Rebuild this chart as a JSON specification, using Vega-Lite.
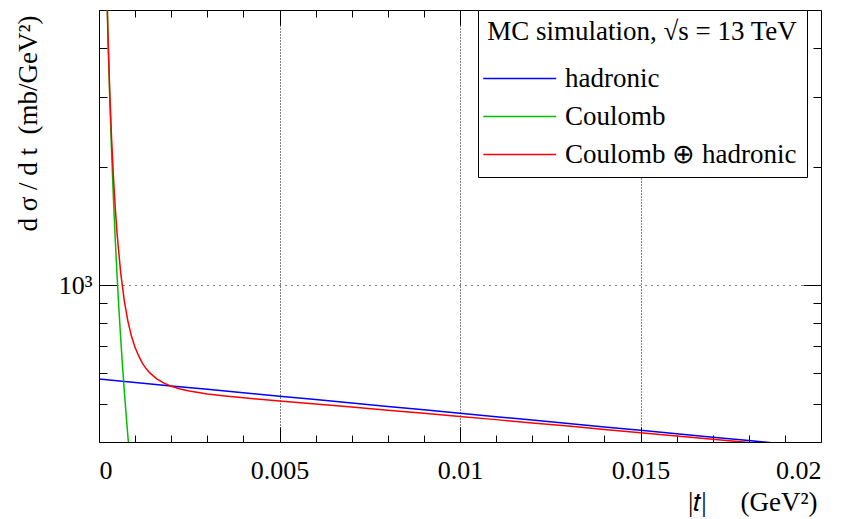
{
  "$schema": "https://vega.github.io/schema/vega-lite/v6.json",
  "width": 722,
  "height": 432,
  "autosize": "none",
  "padding": {"left": 99, "top": 10, "right": 25, "bottom": 77},
  "config": {
    "font": "Liberation Serif",
    "view": {"stroke": "black", "strokeWidth": 1},
    "axis": {"labelColor": "black", "titleColor": "black", "tickColor": "black", "labelFontSize": 26, "titleFontSize": 27, "titleFontWeight": "normal"}
  },
  "data": {
    "values": [
      {"t": 0.000, "v": 578.0, "s": "hadronic"},
      {"t": 0.001, "v": 566.6, "s": "hadronic"},
      {"t": 0.002, "v": 555.3, "s": "hadronic"},
      {"t": 0.003, "v": 544.3, "s": "hadronic"},
      {"t": 0.004, "v": 533.6, "s": "hadronic"},
      {"t": 0.005, "v": 523.0, "s": "hadronic"},
      {"t": 0.006, "v": 512.6, "s": "hadronic"},
      {"t": 0.007, "v": 502.5, "s": "hadronic"},
      {"t": 0.008, "v": 492.5, "s": "hadronic"},
      {"t": 0.009, "v": 482.8, "s": "hadronic"},
      {"t": 0.010, "v": 473.2, "s": "hadronic"},
      {"t": 0.011, "v": 463.9, "s": "hadronic"},
      {"t": 0.012, "v": 454.7, "s": "hadronic"},
      {"t": 0.013, "v": 445.7, "s": "hadronic"},
      {"t": 0.014, "v": 436.8, "s": "hadronic"},
      {"t": 0.015, "v": 428.2, "s": "hadronic"},
      {"t": 0.016, "v": 419.7, "s": "hadronic"},
      {"t": 0.017, "v": 411.4, "s": "hadronic"},
      {"t": 0.018, "v": 403.3, "s": "hadronic"},
      {"t": 0.019, "v": 395.3, "s": "hadronic"},
      {"t": 0.020, "v": 387.4, "s": "hadronic"},
      {"t": 0.0002, "v": 6625, "s": "Coulomb"},
      {"t": 0.00025, "v": 4240, "s": "Coulomb"},
      {"t": 0.0003, "v": 2944, "s": "Coulomb"},
      {"t": 0.00035, "v": 2163, "s": "Coulomb"},
      {"t": 0.0004, "v": 1656, "s": "Coulomb"},
      {"t": 0.00045, "v": 1309, "s": "Coulomb"},
      {"t": 0.0005, "v": 1060, "s": "Coulomb"},
      {"t": 0.00055, "v": 876, "s": "Coulomb"},
      {"t": 0.0006, "v": 736, "s": "Coulomb"},
      {"t": 0.00065, "v": 627, "s": "Coulomb"},
      {"t": 0.0007, "v": 541, "s": "Coulomb"},
      {"t": 0.00075, "v": 471, "s": "Coulomb"},
      {"t": 0.0008, "v": 414, "s": "Coulomb"},
      {"t": 0.00085, "v": 367, "s": "Coulomb"},
      {"t": 0.0009, "v": 327, "s": "Coulomb"},
      {"t": 0.0002, "v": 6504, "s": "Coulomb ⊕ hadronic"},
      {"t": 0.00025, "v": 4258, "s": "Coulomb ⊕ hadronic"},
      {"t": 0.0003, "v": 3054, "s": "Coulomb ⊕ hadronic"},
      {"t": 0.00035, "v": 2340, "s": "Coulomb ⊕ hadronic"},
      {"t": 0.0004, "v": 1882, "s": "Coulomb ⊕ hadronic"},
      {"t": 0.00045, "v": 1574, "s": "Coulomb ⊕ hadronic"},
      {"t": 0.0005, "v": 1355, "s": "Coulomb ⊕ hadronic"},
      {"t": 0.0006, "v": 1077, "s": "Coulomb ⊕ hadronic"},
      {"t": 0.0007, "v": 914, "s": "Coulomb ⊕ hadronic"},
      {"t": 0.0008, "v": 811, "s": "Coulomb ⊕ hadronic"},
      {"t": 0.0009, "v": 742, "s": "Coulomb ⊕ hadronic"},
      {"t": 0.001, "v": 694.6, "s": "Coulomb ⊕ hadronic"},
      {"t": 0.0011, "v": 661.5, "s": "Coulomb ⊕ hadronic"},
      {"t": 0.0012, "v": 634.4, "s": "Coulomb ⊕ hadronic"},
      {"t": 0.0013, "v": 615.3, "s": "Coulomb ⊕ hadronic"},
      {"t": 0.0014, "v": 600.1, "s": "Coulomb ⊕ hadronic"},
      {"t": 0.0016, "v": 578.6, "s": "Coulomb ⊕ hadronic"},
      {"t": 0.0018, "v": 564.5, "s": "Coulomb ⊕ hadronic"},
      {"t": 0.002, "v": 554.3, "s": "Coulomb ⊕ hadronic"},
      {"t": 0.00225, "v": 545.6, "s": "Coulomb ⊕ hadronic"},
      {"t": 0.0025, "v": 539.0, "s": "Coulomb ⊕ hadronic"},
      {"t": 0.00275, "v": 534.1, "s": "Coulomb ⊕ hadronic"},
      {"t": 0.003, "v": 529.8, "s": "Coulomb ⊕ hadronic"},
      {"t": 0.0035, "v": 523.4, "s": "Coulomb ⊕ hadronic"},
      {"t": 0.004, "v": 517.9, "s": "Coulomb ⊕ hadronic"},
      {"t": 0.005, "v": 508.3, "s": "Coulomb ⊕ hadronic"},
      {"t": 0.006, "v": 499.3, "s": "Coulomb ⊕ hadronic"},
      {"t": 0.007, "v": 490.5, "s": "Coulomb ⊕ hadronic"},
      {"t": 0.008, "v": 481.7, "s": "Coulomb ⊕ hadronic"},
      {"t": 0.009, "v": 473.1, "s": "Coulomb ⊕ hadronic"},
      {"t": 0.010, "v": 464.4, "s": "Coulomb ⊕ hadronic"},
      {"t": 0.011, "v": 455.9, "s": "Coulomb ⊕ hadronic"},
      {"t": 0.012, "v": 447.3, "s": "Coulomb ⊕ hadronic"},
      {"t": 0.013, "v": 439.0, "s": "Coulomb ⊕ hadronic"},
      {"t": 0.014, "v": 430.6, "s": "Coulomb ⊕ hadronic"},
      {"t": 0.015, "v": 422.5, "s": "Coulomb ⊕ hadronic"},
      {"t": 0.016, "v": 414.4, "s": "Coulomb ⊕ hadronic"},
      {"t": 0.017, "v": 406.5, "s": "Coulomb ⊕ hadronic"},
      {"t": 0.018, "v": 398.7, "s": "Coulomb ⊕ hadronic"},
      {"t": 0.019, "v": 391.0, "s": "Coulomb ⊕ hadronic"},
      {"t": 0.020, "v": 383.4, "s": "Coulomb ⊕ hadronic"}
    ]
  },
  "layer": [
    {
      "mark": {"type": "line", "clip": true, "strokeWidth": 1.5},
      "encoding": {
        "x": {"field": "t", "type": "quantitative",
          "scale": {"domain": [0, 0.02], "nice": false, "zero": false},
          "axis": {"orient": "bottom", "values": [0, 0.005, 0.01, 0.015, 0.02], "format": "~g", "domain": false,
            "tickSize": -15, "labelPadding": 30, "grid": true, "gridColor": "black", "gridDash": [1, 2], "gridOpacity": 1,
            "title": "|𝑡|\u2003 (GeV²)", "titleAnchor": "end", "titleAlign": "right", "titleX": 718, "titleY": 68, "titleBaseline": "alphabetic"}},
        "y": {"field": "v", "type": "quantitative",
          "scale": {"type": "log", "domain": [400, 5000], "nice": false, "zero": false},
          "axis": {"orient": "left", "values": [1000], "labelExpr": "'10³'", "domain": false,
            "tickSize": -18, "labelPadding": 25, "grid": true, "gridColor": "black", "gridDash": [1, 5], "gridOpacity": 1,
            "title": "d σ / d t\u2002(mb/GeV²)", "titleAngle": 270, "titleAlign": "center", "titleBaseline": "alphabetic", "titleX": -63, "titleY": 113}},
        "color": {"field": "s", "type": "nominal",
          "scale": {"domain": ["hadronic", "Coulomb", "Coulomb ⊕ hadronic"], "range": ["#0000ff", "#00c000", "#ff0000"]},
          "legend": {"orient": "none", "legendX": 379, "legendY": 0,
            "title": "MC simulation, √s = 13 TeV", "titleFontSize": 27, "titleFontWeight": "normal", "titleColor": "black", "titleLimit": 600, "titleAnchor": "middle",
            "labelFontSize": 27, "labelColor": "black", "labelLimit": 600, "labelOffset": 50,
            "symbolType": "M-2,0H6", "symbolSize": 333, "symbolStrokeWidth": 1.5,
            "fillColor": "white", "strokeColor": "black", "padding": 9, "rowPadding": 10, "titlePadding": 19, "cornerRadius": 0}}
      }
    },
    {
      "mark": {"type": "point", "opacity": 0},
      "encoding": {
        "x": {"field": "t", "type": "quantitative", "scale": {"domain": [0, 0.02], "nice": false, "zero": false},
          "axis": {"orient": "bottom", "values": [0.001, 0.002, 0.003, 0.004, 0.006, 0.007, 0.008, 0.009, 0.011, 0.012, 0.013, 0.014, 0.016, 0.017, 0.018, 0.019],
            "labels": false, "domain": false, "grid": false, "tickSize": -7, "title": null}},
        "y": {"field": "v", "type": "quantitative", "scale": {"type": "log", "domain": [400, 5000], "nice": false, "zero": false},
          "axis": {"orient": "left", "values": [500, 600, 700, 800, 900, 2000, 3000, 4000],
            "labels": false, "domain": false, "grid": false, "tickSize": -8, "title": null}}
      }
    },
    {
      "mark": {"type": "point", "opacity": 0},
      "encoding": {
        "x": {"field": "t", "type": "quantitative", "scale": {"domain": [0, 0.02], "nice": false, "zero": false},
          "axis": {"orient": "top", "values": [0.005, 0.01, 0.015],
            "labels": false, "domain": false, "grid": false, "tickSize": -15, "title": null}},
        "y": {"field": "v", "type": "quantitative", "scale": {"type": "log", "domain": [400, 5000], "nice": false, "zero": false},
          "axis": {"orient": "right", "values": [1000],
            "labels": false, "domain": false, "grid": false, "tickSize": -18, "title": null}}
      }
    },
    {
      "mark": {"type": "point", "opacity": 0},
      "encoding": {
        "x": {"field": "t", "type": "quantitative", "scale": {"domain": [0, 0.02], "nice": false, "zero": false},
          "axis": {"orient": "top", "values": [0.001, 0.002, 0.003, 0.004, 0.006, 0.007, 0.008, 0.009, 0.011, 0.012, 0.013, 0.014, 0.016, 0.017, 0.018, 0.019],
            "labels": false, "domain": false, "grid": false, "tickSize": -7, "title": null}},
        "y": {"field": "v", "type": "quantitative", "scale": {"type": "log", "domain": [400, 5000], "nice": false, "zero": false},
          "axis": {"orient": "right", "values": [500, 600, 700, 800, 900, 2000, 3000, 4000],
            "labels": false, "domain": false, "grid": false, "tickSize": -8, "title": null}}
      }
    }
  ],
  "resolve": {"axis": {"x": "independent", "y": "independent"}}
}
